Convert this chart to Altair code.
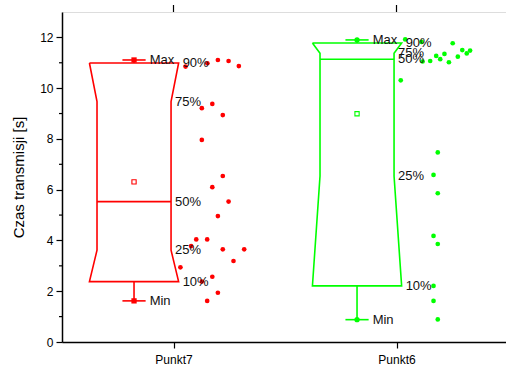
import altair as alt
import pandas as pd

# ---- data ----
categories = ["Punkt7", "Punkt6"]
positions = [1, 2]
colors = ["#FF0000", "#00FF00"]
max_vals = [11.11, 11.90]
p90_vals = [10.99, 11.78]
p75_vals = [9.47, 11.37]
p50_vals = [5.53, 11.14]
p25_vals = [3.62, 6.54]
p10_vals = [2.38, 2.21]
min_vals = [1.62, 0.88]
mean_vals = [6.31, 8.99]

punkt7_values = [10.85, 10.98, 11.11, 11.07, 10.87, 9.38, 9.21, 8.94, 7.96, 6.54, 6.10, 5.53,
                 4.96, 4.04, 4.04, 3.78, 3.65, 3.65, 3.19, 2.94, 2.57, 2.38, 1.94, 1.62]
punkt7_jitter = [0.054, 0.152, 0.199, 0.247, 0.293, 0.174, 0.127, 0.221, 0.127, 0.221, 0.174, 0.247,
                 0.199, 0.102, 0.151, 0.079, 0.221, 0.317, 0.269, 0.031, 0.174, 0.127, 0.199, 0.151]
punkt6_values = [11.92, 11.82, 11.77, 11.50, 11.48, 11.37, 11.35, 11.27, 11.24, 11.14, 11.07, 11.02,
                 11.05, 10.31, 7.47, 6.58, 5.86, 4.18, 3.86, 2.21, 1.62, 0.89]
punkt6_jitter = [0.039, 0.112, 0.252, 0.295, 0.330, 0.315, 0.215, 0.178, 0.275, 0.196, 0.151, 0.235,
                 0.117, 0.019, 0.185, 0.166, 0.185, 0.166, 0.185, 0.166, 0.166, 0.185]

y_ticks = [0, 2, 4, 6, 8, 10, 12]
y_minor = [1, 3, 5, 7, 9, 11]

# ---- style constants ----
BOX_SHIFT = -0.177
WIDE = 0.2
NARROW = 0.166
CAP = 0.052
FONT = "Liberation Sans"

# ---- tables built from the arrays ----
box_rows, stat_rows, label_rows, pts_rows = [], [], [], []
for i, c in enumerate(categories):
    bc = positions[i] + BOX_SHIFT
    outline = [(bc - WIDE, p90_vals[i]), (bc - NARROW, p75_vals[i]), (bc - NARROW, p25_vals[i]),
               (bc - WIDE, p10_vals[i]), (bc + WIDE, p10_vals[i]), (bc + NARROW, p25_vals[i]),
               (bc + NARROW, p75_vals[i]), (bc + WIDE, p90_vals[i]), (bc - WIDE, p90_vals[i])]
    for k, (xx, yy) in enumerate(outline):
        box_rows.append({"cat": c, "o": k, "x": xx, "y": yy})
    stat_rows.append({"cat": c, "bc": bc, "nl": bc - NARROW, "nr": bc + NARROW,
                      "cl": bc - CAP, "cr": bc + CAP,
                      "max": max_vals[i], "p90": p90_vals[i], "p50": p50_vals[i],
                      "p10": p10_vals[i], "min": min_vals[i], "mean": mean_vals[i]})
    for lab, xx, yy in [("Max", bc + CAP, max_vals[i]), ("90%", bc + WIDE, p90_vals[i]),
                        ("75%", bc + NARROW, p75_vals[i]), ("50%", bc + NARROW, p50_vals[i]),
                        ("25%", bc + NARROW, p25_vals[i]), ("10%", bc + WIDE, p10_vals[i]),
                        ("Min", bc + CAP, min_vals[i])]:
        label_rows.append({"cat": c, "label": lab, "x": xx, "y": yy})

for v, j in zip(punkt7_values, punkt7_jitter):
    pts_rows.append({"cat": "Punkt7", "x": positions[0] + j, "y": v})
for v, j in zip(punkt6_values, punkt6_jitter):
    pts_rows.append({"cat": "Punkt6", "x": positions[1] + j, "y": v})

box_df = pd.DataFrame(box_rows)
stat_df = pd.DataFrame(stat_rows)
label_df = pd.DataFrame(label_rows)
pts_df = pd.DataFrame(pts_rows)
cat_df = pd.DataFrame({"cat": categories, "pos": positions})
minor_df = pd.DataFrame({"y": y_minor})

xscale = alt.Scale(domain=[0.5, 2.491], nice=False, zero=False)
yscale = alt.Scale(domain=[0, 13], nice=False)
cscale = alt.Scale(domain=categories, range=colors)
col = alt.Color("cat:N", scale=cscale, legend=None)

label_expr = "datum.value == 1 ? 'Punkt7' : datum.value == 2 ? 'Punkt6' : ''"
xaxis = alt.Axis(values=positions, labelExpr=label_expr, title=None, grid=False,
                 tickSize=6, tickColor="black", domainColor="black", domainWidth=1.5,
                 tickWidth=1.2, labelFont=FONT, labelFontSize=12, labelColor="black",
                 labelPadding=6)
yaxis = alt.Axis(values=y_ticks, title="Czas transmisji [s]", grid=False, tickSize=6,
                 tickColor="black", domainColor="black", domainWidth=1.5, tickWidth=1.2,
                 labelFont=FONT, labelFontSize=12, labelColor="black", labelPadding=3,
                 titleFont=FONT, titleFontSize=15, titleFontWeight="normal",
                 titleColor="black", titlePadding=13)

base_x = alt.X("x:Q", scale=xscale, axis=xaxis)
base_y = alt.Y("y:Q", scale=yscale, axis=yaxis)

box = alt.Chart(box_df).mark_line(strokeWidth=1.6, strokeJoin="miter").encode(
    x=base_x, y=base_y, detail="cat:N", order="o:Q", color=col)

stat = alt.Chart(stat_df)
median = stat.mark_rule(strokeWidth=1.6).encode(
    x=alt.X("nl:Q", scale=xscale), x2="nr:Q", y=alt.Y("p50:Q", scale=yscale), color=col)
wh_top = stat.mark_rule(strokeWidth=1.6).encode(
    x=alt.X("bc:Q", scale=xscale), y=alt.Y("p90:Q", scale=yscale), y2="max:Q", color=col)
wh_bot = stat.mark_rule(strokeWidth=1.6).encode(
    x=alt.X("bc:Q", scale=xscale), y=alt.Y("min:Q", scale=yscale), y2="p10:Q", color=col)
cap_top = stat.mark_rule(strokeWidth=1.6).encode(
    x=alt.X("cl:Q", scale=xscale), x2="cr:Q", y=alt.Y("max:Q", scale=yscale), color=col)
cap_bot = stat.mark_rule(strokeWidth=1.6).encode(
    x=alt.X("cl:Q", scale=xscale), x2="cr:Q", y=alt.Y("min:Q", scale=yscale), color=col)
mk_top = stat.mark_point(filled=True, size=28, opacity=1).encode(
    x=alt.X("bc:Q", scale=xscale), y=alt.Y("max:Q", scale=yscale), color=col,
    shape=alt.Shape("cat:N", scale=alt.Scale(domain=categories, range=["square", "circle"]), legend=None))
mk_bot = stat.mark_point(filled=True, size=28, opacity=1).encode(
    x=alt.X("bc:Q", scale=xscale), y=alt.Y("min:Q", scale=yscale), color=col,
    shape=alt.Shape("cat:N", scale=alt.Scale(domain=categories, range=["square", "circle"]), legend=None))
mean = stat.mark_point(shape="square", filled=False, size=18, strokeWidth=1.1, opacity=1).encode(
    x=alt.X("bc:Q", scale=xscale), y=alt.Y("mean:Q", scale=yscale), color=col)

points = alt.Chart(pts_df).mark_circle(size=22, opacity=1).encode(
    x=alt.X("x:Q", scale=xscale), y=alt.Y("y:Q", scale=yscale), color=col)

labels = alt.Chart(label_df).mark_text(align="left", baseline="middle", dx=4, font=FONT,
                                       fontSize=13, color="#111111").encode(
    x=alt.X("x:Q", scale=xscale), y=alt.Y("y:Q", scale=yscale), text="label:N")

minor = alt.Chart(minor_df).mark_rule(color="black", strokeWidth=1.2).encode(
    y=alt.Y("y:Q", scale=yscale), x=alt.value(-3), x2=alt.value(0))
top_ticks = alt.Chart(cat_df).mark_rule(color="black", strokeWidth=1.2).encode(
    x=alt.X("pos:Q", scale=xscale), y=alt.value(-7), y2=alt.value(0))

chart = alt.layer(box, median, wh_top, wh_bot, cap_top, cap_bot, mk_top, mk_bot, mean,
                  points, labels, minor, top_ticks).properties(
    width=444, height=330,
    autosize=alt.AutoSizeParams(type="none"),
    padding={"left": 62, "top": 12, "right": 0, "bottom": 25},
).configure_view(stroke="black", strokeWidth=1.5).configure(background="white")

chart.save("out.html", embed_options={"renderer": "svg", "actions": False})
